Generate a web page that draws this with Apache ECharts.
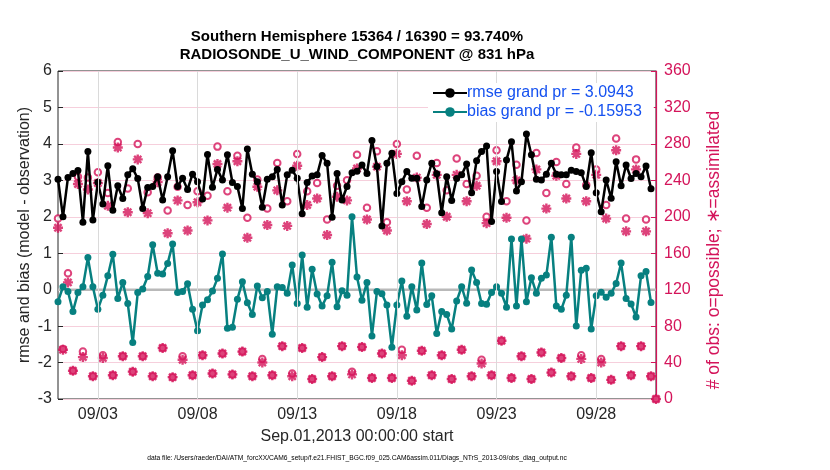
<!DOCTYPE html>
<html><head><meta charset="utf-8">
<script src="https://cdn.jsdelivr.net/npm/echarts@6/dist/echarts.min.js"></script>
<style>html,body{margin:0;padding:0;background:#fff}#c{width:830px;height:470px}</style>
</head><body><div id="c"></div>
<script>
const titleLines = ['Southern Hemisphere 15364 / 16390 = 93.740%', 'RADIOSONDE_U_WIND_COMPONENT @ 831 hPa'];
const xAxisName = 'Sep.01,2013 00:00:00 start';
const leftName = 'rmse and bias (model - observation)';
const rightName = '# of obs: o=possible; \u2217=assimilated';
const fileNote = 'data file: /Users/raeder/DAI/ATM_forcXX/CAM6_setup/f.e21.FHIST_BGC.f09_025.CAM6assim.011/Diags_NTrS_2013-09/obs_diag_output.nc';
const legendNames = ['rmse grand pr = 3.0943', 'bias grand pr = -0.15953'];
// x ticks (days since Sep 01 00Z)
const tickDays = [2, 7, 12, 17, 22, 27];
const tickLabels = ['09/03', '09/08', '09/13', '09/18', '09/23', '09/28'];
const stepDays = 0.25; // 6-hourly bins
const rmse = [3.03,2.00,3.08,3.19,3.27,1.85,3.79,1.91,2.95,2.35,3.40,2.18,2.85,2.50,3.15,3.32,3.05,2.23,2.80,2.83,
3.10,2.46,3.10,3.81,2.83,3.06,2.75,3.17,2.96,2.49,3.71,2.81,3.30,3.01,3.70,2.94,2.83,2.23,3.86,3.17,
2.96,2.26,3.03,3.10,3.30,2.32,3.15,3.28,3.06,2.08,2.94,3.12,3.15,3.68,3.47,1.99,3.19,2.46,2.83,3.21,
3.25,3.42,3.19,4.09,3.38,1.75,3.47,3.74,2.64,2.96,3.24,3.06,3.06,2.28,3.01,3.47,3.18,2.11,3.10,2.45,
3.05,3.15,3.45,2.66,3.54,3.79,3.94,1.87,3.24,2.42,3.56,4.06,2.71,2.96,4.27,3.70,3.03,3.01,3.17,3.47,
3.17,3.15,3.15,3.28,3.24,3.21,2.83,3.76,2.66,2.14,3.01,2.51,3.51,2.85,3.42,3.05,3.19,3.10,3.39,2.77];
const bias = [-0.33,0.08,-0.05,-0.60,-0.08,0.08,0.88,0.08,-0.54,-0.15,0.38,0.97,-0.24,0.20,-0.38,-1.45,-0.08,0.02,0.36,1.23,
0.45,0.43,0.72,1.25,-0.08,-0.05,0.16,-0.54,-1.13,-0.42,-0.28,-0.04,0.31,0.98,-1.06,-1.03,-0.26,0.22,-0.36,-0.68,
0.10,-0.22,-0.05,-1.22,0.08,0.06,-0.10,0.68,-0.38,0.95,-0.48,0.56,-0.12,-0.45,-0.17,0.75,-0.47,-0.03,-0.15,2.00,
0.35,-0.29,0.20,-1.27,-0.05,-0.11,-0.42,-1.58,-0.42,0.24,-0.73,0.08,-0.56,0.73,-0.41,-0.17,-1.20,-0.60,-0.68,-1.08,
-0.31,0.08,-0.37,0.54,0.20,-0.38,-0.40,-0.08,0.08,-0.10,-0.48,1.39,-0.45,1.39,-0.33,0.33,-0.10,0.31,0.40,1.44,
-0.45,-0.54,-0.15,1.44,-1.00,0.53,0.59,-1.08,-0.17,-0.07,-0.21,-0.10,0.17,0.73,-0.24,-0.39,-0.75,0.38,0.50,-0.35];
const possible = [198,55,138,31,244,52,243,25,249,48,226,26,282,47,231,30,280,47,227,25,
243,56,207,24,233,47,213,26,228,48,223,28,277,50,228,27,267,52,199,25,
241,44,209,26,259,58,217,28,269,56,228,22,237,46,197,25,234,58,240,30,
268,57,210,23,272,50,194,23,280,54,230,20,267,53,210,26,259,48,229,22,
264,54,236,25,245,43,200,26,273,64,217,23,257,47,196,22,270,51,226,29,
260,45,236,25,276,48,235,23,252,44,213,21,286,58,198,26,263,58,197,25,0];
const assimilated = [188,54,128,31,236,46,230,25,237,45,212,26,276,47,205,30,263,47,204,25,
238,56,182,24,218,43,185,26,216,48,196,28,258,50,210,27,261,52,177,25,
233,40,191,26,229,58,190,25,256,56,213,22,220,46,180,25,222,58,218,27,
253,57,197,23,255,50,185,23,269,48,217,20,243,53,192,26,246,48,200,22,
246,54,217,25,234,39,193,26,261,64,199,23,240,47,176,22,252,51,209,29,
245,45,220,25,269,44,217,23,246,40,198,21,273,58,184,26,252,58,184,25,0];

const FONT = '"Liberation Sans", Arial, Helvetica, sans-serif';
const PINK = '#d4145a';
const TEAL = '#078080';
const AX = '#262626';
const pair = arr => arr.map((v, i) => [i * stepDays, v]);

const chart = echarts.init(document.getElementById('c'), null, {renderer: 'canvas'});
chart.setOption({
  animation: false,
  backgroundColor: '#fff',
  textStyle: {fontFamily: FONT},
  grid: {left: 58, right: 174, top: 71, bottom: 71, containLabel: false,
         show: true, borderColor: AX, borderWidth: 1, backgroundColor: 'transparent'},
  graphic: [
    {type: 'text', z: 50, style: {text: titleLines[0], font: 'bold 15px ' + FONT, fill: '#000', textAlign: 'center', textVerticalAlign: 'middle', x: 357, y: 37}},
    {type: 'text', z: 50, style: {text: titleLines[1], font: 'bold 15px ' + FONT, fill: '#000', textAlign: 'center', textVerticalAlign: 'middle', x: 357, y: 55}},
    {type: 'text', z: 50, style: {text: fileNote, font: '6.7px ' + FONT, fill: '#000', textAlign: 'center', textVerticalAlign: 'middle', x: 357, y: 458}}
  ],
  legend: {
    data: legendNames,
    orient: 'vertical',
    left: 428, top: 83, z: 20,
    itemWidth: 34, itemHeight: 12, itemGap: 3,
    backgroundColor: '#fff',
    padding: [2, 12, 2, 4],
    textStyle: {color: '#1652f0', fontSize: 16, fontFamily: FONT, padding: [0, 0, 0, -5]}
  },
  xAxis: [{
    type: 'value', min: 0, max: 30,
    name: xAxisName, nameLocation: 'middle', nameGap: 30,
    nameTextStyle: {fontSize: 16, color: AX, fontFamily: FONT},
    axisLine: {show: false},
    axisTick: {inside: true, length: 5, lineStyle: {color: AX}, customValues: tickDays},
    axisLabel: {customValues: tickDays, formatter: v => tickLabels[tickDays.indexOf(Math.round(v))], fontSize: 16, color: AX, margin: 8, fontFamily: FONT},
    splitLine: {show: false}
  }],
  yAxis: [{
    type: 'value', min: -3, max: 6, interval: 1, position: 'left',
    name: leftName, nameLocation: 'middle', nameRotate: 90, nameGap: 25, nameMoveOverlap: false,
    nameTextStyle: {fontSize: 16, color: AX, fontFamily: FONT},
    axisLine: {show: false},
    axisTick: {show: true, inside: true, length: 5, lineStyle: {color: AX}},
    axisLabel: {fontSize: 16, color: AX, margin: 6, fontFamily: FONT},
    splitLine: {show: true, lineStyle: {color: '#f6cfdc', width: 1}}
  }, {
    type: 'value', min: 0, max: 360, interval: 40, position: 'right',
    name: rightName, nameLocation: 'middle', nameRotate: 90, nameGap: 49, nameMoveOverlap: false,
    nameTextStyle: {fontSize: 17.5, color: PINK, fontFamily: FONT, padding: [0, 30, 0, 0]},
    axisLine: {show: true, onZero: false, lineStyle: {color: PINK, width: 1.2}},
    axisTick: {show: true, inside: true, length: 5, lineStyle: {color: PINK}},
    axisLabel: {fontSize: 16, color: PINK, margin: 8, fontFamily: FONT},
    splitLine: {show: false}
  }],
  series: [
    {
      name: 'zero', type: 'line', xAxisIndex: 0, yAxisIndex: 0, z: 1,
      data: [[0, 0], [30, 0]], symbol: 'none', silent: true,
      lineStyle: {color: '#b9b9b9', width: 2.5},
      markLine: {
        silent: true, symbol: 'none', label: {show: false},
        lineStyle: {color: '#dadada', width: 1, type: 'solid'},
        data: tickDays.map(d => ({xAxis: d}))
      }
    },
    {
      name: 'possible', type: 'scatter', xAxisIndex: 0, yAxisIndex: 1, z: 3,
      data: pair(possible), symbol: 'emptyCircle', symbolSize: 6.5,
      itemStyle: {color: PINK, borderColor: PINK, borderWidth: 1.8}
    },
    {
      name: 'assimilated', type: 'scatter', xAxisIndex: 0, yAxisIndex: 1, z: 3,
      data: pair(assimilated),
      symbol: 'path://M0,-5L0,5M-5,0L5,0M-3.6,-3.6L3.6,3.6M-3.6,3.6L3.6,-3.6', symbolSize: 10,
      itemStyle: {color: PINK, borderColor: PINK, borderWidth: 2.4}
    },
    {
      name: legendNames[0], type: 'line', xAxisIndex: 0, yAxisIndex: 0, z: 4,
      data: pair(rmse), symbol: 'circle', symbolSize: 7, showSymbol: true,
      lineStyle: {color: '#000', width: 2.5}, itemStyle: {color: '#000'}
    },
    {
      name: legendNames[1], type: 'line', xAxisIndex: 0, yAxisIndex: 0, z: 4,
      data: pair(bias), symbol: 'circle', symbolSize: 7, showSymbol: true,
      lineStyle: {color: TEAL, width: 2.5}, itemStyle: {color: TEAL}
    }
  ]
});
</script></body></html>
